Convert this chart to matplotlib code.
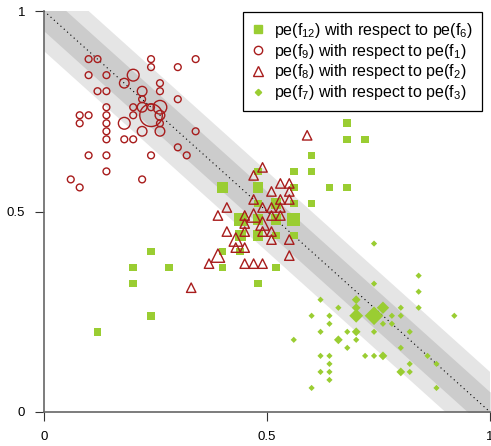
import matplotlib
matplotlib.use("Agg")
import matplotlib.pyplot as plt
from matplotlib.lines import Line2D
import numpy as np

plt.rcParams['font.family'] = ['Liberation Sans', 'DejaVu Sans']
plt.rcParams['mathtext.default'] = 'regular'

# pe(f12) vs pe(f6): squares  (x, y, count)
sq_x = [0.12, 0.20, 0.20, 0.24, 0.24, 0.28,
        0.40, 0.48, 0.56, 0.64, 0.68,
        0.48, 0.56, 0.60, 0.60, 0.60, 0.56, 0.52, 0.48,
        0.68, 0.68, 0.72,
        0.44, 0.48, 0.52, 0.56,
        0.44, 0.48, 0.52, 0.56,
        0.40, 0.44, 0.40, 0.52, 0.48]
sq_y = [0.20, 0.36, 0.32, 0.40, 0.24, 0.36,
        0.56, 0.56, 0.56, 0.56, 0.56,
        0.60, 0.60, 0.60, 0.64, 0.52, 0.52, 0.52, 0.52,
        0.72, 0.68, 0.68,
        0.48, 0.48, 0.48, 0.48,
        0.44, 0.44, 0.44, 0.44,
        0.40, 0.40, 0.36, 0.36, 0.32]
sq_n = [1, 1, 1, 1, 1, 1,
        2, 2, 1, 1, 1,
        1, 1, 1, 1, 1, 1, 2, 1,
        1, 1, 1,
        3, 2, 2, 3,
        2, 2, 1, 1,
        1, 1, 1, 1, 1]

# pe(f9) vs pe(f1): circles
ci_x = [0.10, 0.12, 0.24, 0.34,
        0.24, 0.30,
        0.10, 0.14, 0.20,
        0.18, 0.26,
        0.12, 0.14, 0.22, 0.26,
        0.22, 0.30,
        0.14, 0.20, 0.22, 0.24, 0.26,
        0.08, 0.10, 0.14, 0.20, 0.24, 0.26,
        0.08, 0.14, 0.18, 0.26,
        0.14, 0.22, 0.26, 0.34,
        0.14, 0.18, 0.20,
        0.30,
        0.10, 0.14, 0.24, 0.32,
        0.14,
        0.06, 0.22,
        0.08]
ci_y = [0.88, 0.88, 0.88, 0.88,
        0.86, 0.86,
        0.84, 0.84, 0.84,
        0.82, 0.82,
        0.80, 0.80, 0.80, 0.80,
        0.78, 0.78,
        0.76, 0.76, 0.76, 0.76, 0.76,
        0.74, 0.74, 0.74, 0.74, 0.74, 0.74,
        0.72, 0.72, 0.72, 0.72,
        0.70, 0.70, 0.70, 0.70,
        0.68, 0.68, 0.68,
        0.66,
        0.64, 0.64, 0.64, 0.64,
        0.60,
        0.58, 0.58,
        0.56]
ci_n = [1, 1, 1, 1,
        1, 1,
        1, 1, 3,
        2, 1,
        1, 1, 2, 1,
        1, 1,
        1, 1, 2, 1, 4,
        1, 1, 1, 1, 11, 2,
        1, 1, 3, 1,
        1, 2, 2, 1,
        1, 1, 1,
        1,
        1, 1, 1, 1,
        1,
        1, 1,
        1]

# pe(f8) vs pe(f2): triangles
tr_x = [0.59, 0.49, 0.47, 0.53, 0.55, 0.51, 0.55,
        0.47, 0.53, 0.55,
        0.41, 0.49, 0.51, 0.53,
        0.39, 0.45, 0.47, 0.51, 0.53,
        0.45, 0.49,
        0.41, 0.45, 0.49, 0.51,
        0.43, 0.51, 0.55,
        0.43, 0.45,
        0.39, 0.55,
        0.37, 0.45, 0.47, 0.49,
        0.33]
tr_y = [0.69, 0.61, 0.59, 0.57, 0.57, 0.55, 0.55,
        0.53, 0.53, 0.53,
        0.51, 0.51, 0.51, 0.51,
        0.49, 0.49, 0.49, 0.49, 0.49,
        0.47, 0.47,
        0.45, 0.45, 0.45, 0.45,
        0.43, 0.43, 0.43,
        0.41, 0.41,
        0.39, 0.39,
        0.37, 0.37, 0.37, 0.37,
        0.31]
tr_n = [1, 1, 1, 1, 1, 1, 1,
        1, 1, 1,
        1, 1, 1, 1,
        1, 1, 2, 1, 1,
        1, 2,
        1, 1, 1, 1,
        2, 1, 1,
        1, 1,
        2, 1,
        1, 1, 1, 1,
        1]

# pe(f7) vs pe(f3): diamonds
di_x = [0.74, 0.84, 0.74, 0.84,
        0.62, 0.70,
        0.76, 0.84, 0.66, 0.70, 0.80,
        0.60, 0.64, 0.70, 0.74, 0.78, 0.80, 0.92,
        0.64, 0.76, 0.78,
        0.62, 0.68, 0.70, 0.74, 0.82,
        0.56, 0.66, 0.70,
        0.68, 0.80,
        0.62, 0.64, 0.72, 0.74, 0.76, 0.86,
        0.64, 0.82, 0.88,
        0.62, 0.64, 0.80, 0.82,
        0.64,
        0.60, 0.88]
di_y = [0.42, 0.34, 0.32, 0.30,
        0.28, 0.28,
        0.26, 0.26, 0.26, 0.26, 0.26,
        0.24, 0.24, 0.24, 0.24, 0.24, 0.24, 0.24,
        0.22, 0.22, 0.22,
        0.20, 0.20, 0.20, 0.20, 0.20,
        0.18, 0.18, 0.18,
        0.16, 0.16,
        0.14, 0.14, 0.14, 0.14, 0.14, 0.14,
        0.12, 0.12, 0.12,
        0.10, 0.10, 0.10, 0.10,
        0.08,
        0.06, 0.06]
di_n = [1, 1, 1, 1,
        1, 2,
        4, 1, 1, 2, 1,
        1, 1, 5, 9, 1, 1, 1,
        1, 1, 1,
        1, 1, 2, 1, 1,
        1, 2, 1,
        1, 1,
        1, 1, 1, 1, 2, 1,
        1, 1, 1,
        1, 1, 2, 1,
        1,
        1, 1]

labels = ['pe(f$_{12}$) with respect to pe(f$_6$)',
          'pe(f$_9$) with respect to pe(f$_1$)',
          'pe(f$_8$) with respect to pe(f$_2$)',
          'pe(f$_7$) with respect to pe(f$_3$)']

green = '#9acd32'
red = '#a81c1c'

fig = plt.figure(figsize=(4.91, 4.46), dpi=100)
ax = fig.add_axes([44 / 491, 34 / 446, 446 / 491, 401 / 446])

# agreement bands around the diagonal
xs = np.linspace(0, 1, 200)
ax.fill_between(xs, 1 - xs - 0.1, 1 - xs + 0.1, color='#e5e5e5', lw=0, zorder=0)
ax.fill_between(xs, 1 - xs - 0.05, 1 - xs + 0.05, color='#cccccc', lw=0, zorder=0)
ax.plot([0, 1], [1, 0], color='black', ls=(0, (1, 3)), lw=0.8, zorder=1)

ax.scatter(sq_x, sq_y, s=np.array(sq_n) * 30, marker='s', color=green,
           linewidths=0, zorder=2)
ax.scatter(ci_x, ci_y, s=np.array(ci_n) * 24, marker='o', facecolors='none',
           edgecolors=red, linewidths=1.0, zorder=3)
ax.scatter(tr_x, tr_y, s=np.array(tr_n) * 46, marker='^', facecolors='none',
           edgecolors=red, linewidths=1.0, zorder=4)
ax.scatter(di_x, di_y, s=np.array(di_n) * 10, marker='D', color=green,
           linewidths=0, zorder=5)

ax.set_xlim(0, 1)
ax.set_ylim(0, 1)
ax.set_xticks([0, 0.5, 1])
ax.set_xticklabels(['0', '0.5', '1'])
ax.set_yticks([0, 0.5, 1])
ax.set_yticklabels(['0', '0.5', '1'])
ax.tick_params(length=6.5, width=0.8, pad=7, labelsize=9.5, color='#333333')
for side in ['top', 'right']:
    ax.spines[side].set_visible(False)
for side in ['left', 'bottom']:
    ax.spines[side].set_color('#666666')
    ax.spines[side].set_linewidth(1.2)

handles = [
    Line2D([], [], ls='none', marker='s', color=green, markersize=5.5),
    Line2D([], [], ls='none', marker='o', markerfacecolor='none',
           markeredgecolor=red, markersize=6, markeredgewidth=1.0),
    Line2D([], [], ls='none', marker='^', markerfacecolor='none',
           markeredgecolor=red, markersize=7, markeredgewidth=1.0),
    Line2D([], [], ls='none', marker='D', color=green, markersize=3.2),
]
leg = ax.legend(handles, labels, loc='upper right', bbox_to_anchor=(0.982, 0.998),
                borderaxespad=0, fontsize=11.5, fancybox=False, framealpha=1,
                edgecolor='black', handlelength=0.8, handletextpad=0.6,
                labelspacing=0.12, borderpad=0.55)
leg.get_frame().set_linewidth(0.9)

fig.savefig('out.png', dpi=100)
